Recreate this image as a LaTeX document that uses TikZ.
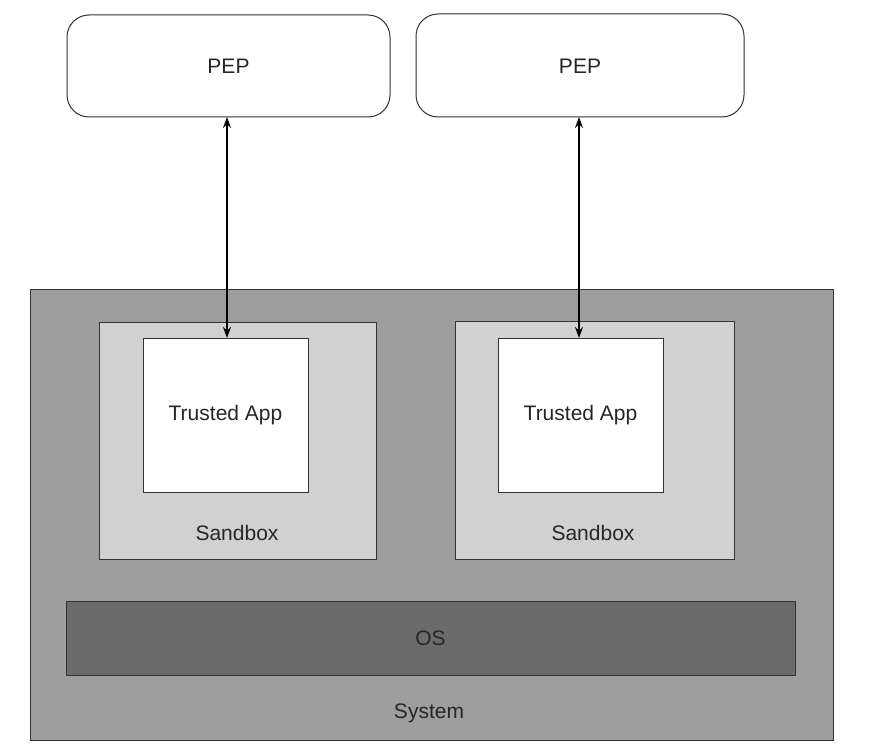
\documentclass[tikz,border=0pt]{standalone}
\usepackage{fontspec}
\setmainfont{Liberation Sans}
\usetikzlibrary{arrows.meta}
\begin{document}
\begin{tikzpicture}[x=1pt,y=-1pt,
  box/.style={draw=black!80,line width=1pt},
  lbl/.style={font=\fontsize{21}{25}\selectfont,text=black!85},
  arr/.style={line width=1.6pt,{Stealth[length=11pt,width=8pt]}-{Stealth[length=11pt,width=8pt]}}]
\useasboundingbox (0,0) rectangle (880,749);
\draw[box,fill=white,rounded corners=22pt] (67,15) rectangle (390,117);
\node[lbl] (pep1) at (228.5,66) {PEP};
\draw[box,fill=white,rounded corners=22pt] (416,14) rectangle (744,117);
\node[lbl] (pep2) at (580,66) {PEP};
\draw[box,fill=black!38] (30,289) rectangle (833,740);
\node[lbl] (sys) at (429,713) {System};
\draw[box,fill=black!18] (99,322) rectangle (376,559);
\draw[box,fill=black!18] (455,321) rectangle (734,559);
\node[lbl] (sb1) at (237,533) {Sandbox};
\node[lbl] (sb2) at (593,533) {Sandbox};
\node[box,fill=white,minimum width=165pt,minimum height=154pt,lbl] (ta1) at (225.5,415) {Trusted App};
\node[box,fill=white,minimum width=165pt,minimum height=154pt,lbl] (ta2) at (580.5,415) {Trusted App};
\node[box,fill=black!58,minimum width=729pt,minimum height=74pt,lbl] (os) at (430.5,638) {OS};
\coordinate (a1) at (227,117);
\coordinate (b1) at (227,338);
\coordinate (a2) at (579,117);
\coordinate (b2) at (579,338);
\draw[arr] (a1) -- (b1);
\draw[arr] (a2) -- (b2);
\end{tikzpicture}
\end{document}
